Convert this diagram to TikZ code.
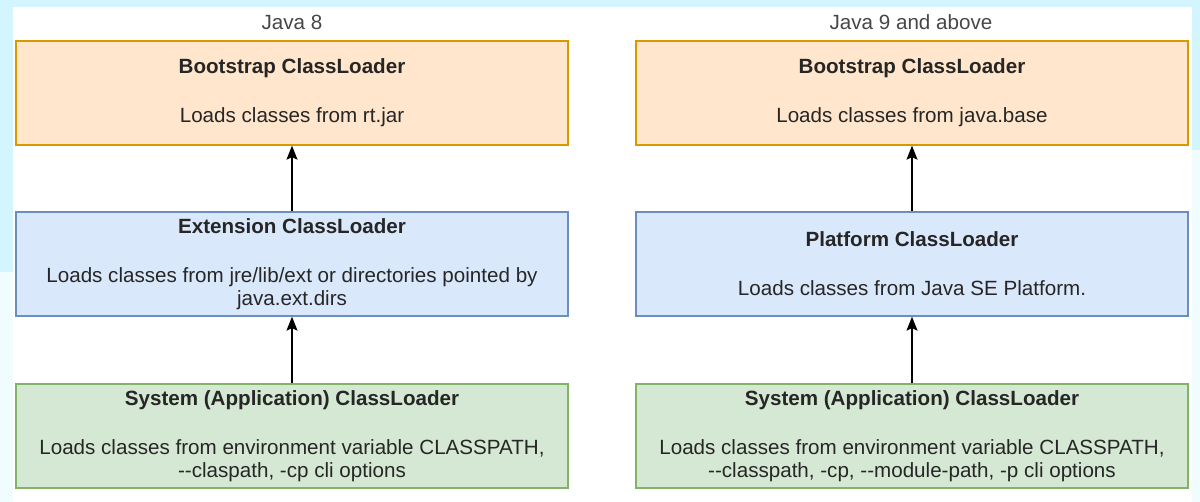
\documentclass[tikz,border=0pt]{standalone}
\usepackage{fontspec}
\setmainfont{Liberation Sans}
\usetikzlibrary{arrows.meta}
\definecolor{bgcyan}{HTML}{D3F5FD}
\definecolor{bgpale}{HTML}{F1FCFE}
\definecolor{ofill}{HTML}{FFE6CC}
\definecolor{ostroke}{HTML}{D79B00}
\definecolor{bfill}{HTML}{DAE8FC}
\definecolor{bstroke}{HTML}{6C8EBF}
\definecolor{gfill}{HTML}{D5E8D4}
\definecolor{gstroke}{HTML}{82B366}
\definecolor{txt}{HTML}{262626}
\tikzset{
  loader/.style={rectangle, minimum width=552pt, minimum height=104pt, inner sep=0pt,
    line width=1.3pt, align=center, text=txt, font=\fontsize{20.6}{23}\selectfont},
  obox/.style={loader, fill=ofill, draw=ostroke},
  bbox/.style={loader, fill=bfill, draw=bstroke},
  gbox/.style={loader, fill=gfill, draw=gstroke},
  title/.style={text=txt!85, font=\fontsize{20.6}{23}\selectfont, inner sep=0pt},
  arr/.style={line width=1.3pt, -{Stealth[length=14pt,width=11pt,inset=2.5pt]}}
}
\begin{document}
\begin{tikzpicture}[x=1pt,y=-1pt]
\useasboundingbox (0,0) rectangle (1200,502);
\fill[bgcyan] (0,0) rectangle (1200,502);
\fill[bgpale] (0,272) rectangle (13,502);
\fill[bgpale] (1192,150) rectangle (1200,502);
\fill[white] (13,7) rectangle (1192,502);

\node[title] (t8) at (292,22) {Java 8};
\node[title] (t9) at (911,22) {Java 9 and above};

\node[obox] (b8) at (292,93) {\textbf{Bootstrap ClassLoader}\\[26pt]Loads classes from rt.jar};
\node[bbox] (e8) at (292,264) {\textbf{Extension ClassLoader}\\[26pt]Loads classes from jre/lib/ext or directories pointed by\\java.ext.dirs};
\node[gbox] (s8) at (292,436) {\textbf{System (Application) ClassLoader}\\[26pt]Loads classes from environment variable CLASSPATH,\\-{}-claspath, -cp cli options};

\node[obox] (b9) at (912,93) {\textbf{Bootstrap ClassLoader}\\[26pt]Loads classes from java.base};
\node[bbox] (p9) at (912,264) {\textbf{Platform ClassLoader}\\[26pt]Loads classes from Java SE Platform.};
\node[gbox] (s9) at (912,436) {\textbf{System (Application) ClassLoader}\\[26pt]Loads classes from environment variable CLASSPATH,\\-{}-classpath, -cp, -{}-module-path, -p cli options};

\draw[arr] (e8.north) -- (b8.south);
\draw[arr] (s8.north) -- (e8.south);
\draw[arr] (p9.north) -- (b9.south);
\draw[arr] (s9.north) -- (p9.south);
\end{tikzpicture}
\end{document}
